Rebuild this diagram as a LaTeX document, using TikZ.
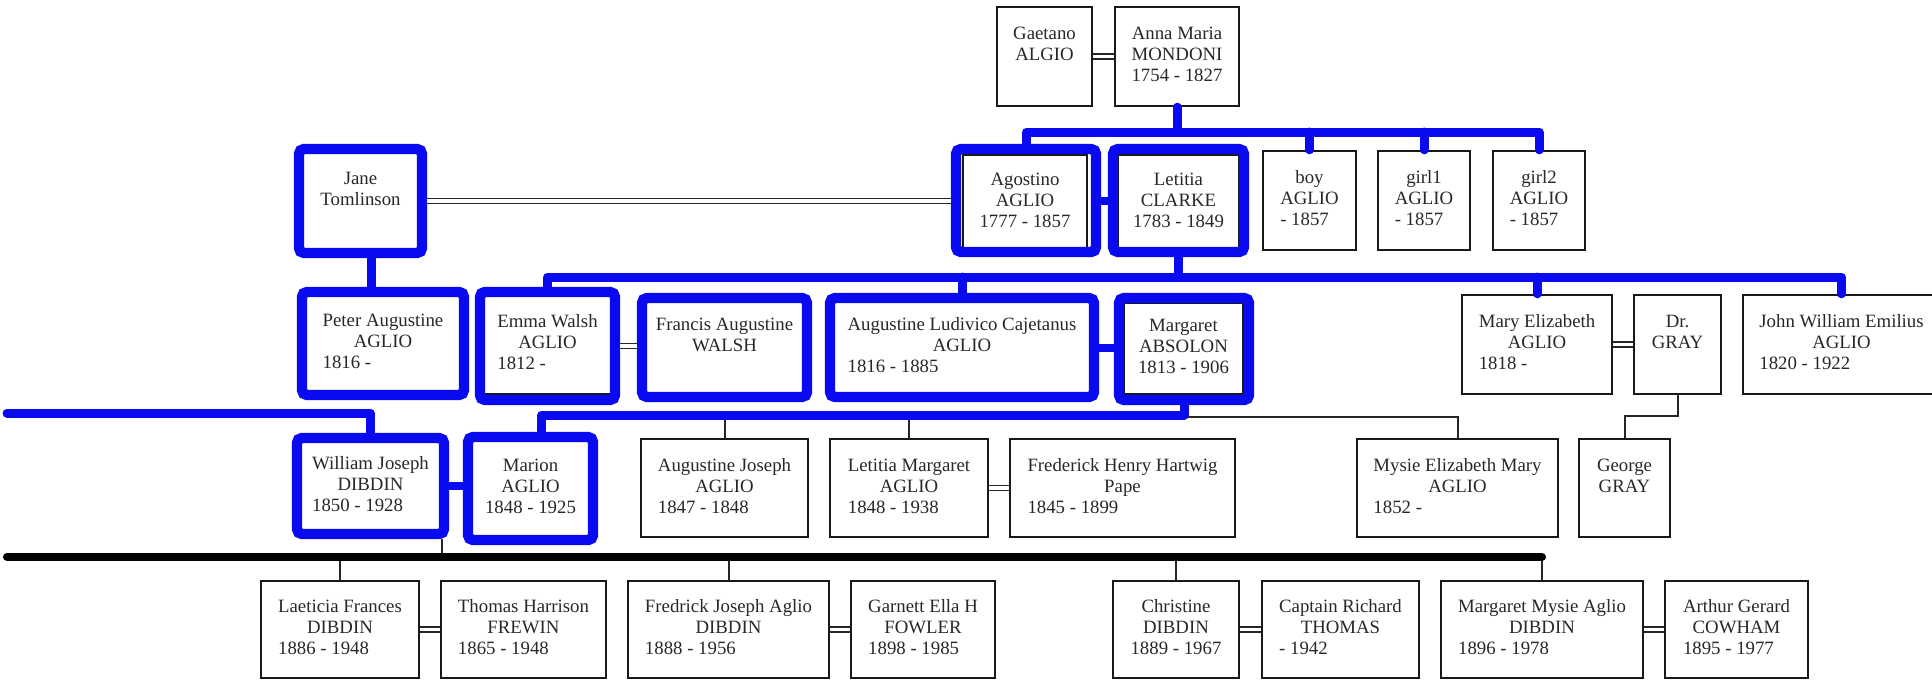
\documentclass[tikz,border=0pt]{standalone}
\usepackage{fontspec}
\setmainfont{Liberation Serif}
\usetikzlibrary{fit,calc}
\definecolor{hblue}{RGB}{10,10,240}
\definecolor{txt}{RGB}{40,40,40}
\newcommand{\ppl}[3]{\begin{tabular}{@{}c@{}}#1\\#2\\\multicolumn{1}{@{}l@{}}{#3}\end{tabular}}
\newcommand{\pnode}[8]{%
  \pgfmathsetmacro\pbcx{(#2+#4)/2}%
  \pgfmathsetmacro\pbcy{(#3+#5)/2}%
  \pgfmathsetmacro\pbw{(#4-#2)*0.5}%
  \pgfmathsetmacro\pbh{(#5-#3)*0.5}%
  \node[pbox, minimum width=\pbw pt, minimum height=\pbh pt] (#1) at (\pbcx,\pbcy) {\ppl{#6}{#7}{#8}};}
\newcommand{\hnode}[5]{\node[hbox, fit={(#2,#3) (#4,#5)}] (#1) {};}
\tikzset{
  pbox/.style={draw=black!90, line width=1.2pt, inner sep=0pt, fill=white, anchor=center,
    font=\fontsize{9.4}{10.5}\selectfont, text=txt},
  hbox/.style={draw=hblue, line width=5.2pt, rounded corners=2.5pt, inner sep=0pt},
  bline/.style={draw=hblue, line width=4.5pt, line cap=round, line join=round},
  blink/.style={draw=hblue, line width=4pt},
  conn/.style={draw=black!85, line width=1pt},
  marry/.style={draw=black!85, double=white, line width=0.7pt, double distance=1.8pt},
  thickbk/.style={draw=black, line width=4pt, line cap=round}
}
\begin{document}
\begin{tikzpicture}[x=0.5pt, y=-0.5pt]
\fill[white] (0,0) rectangle (1932,680);
\useasboundingbox (0,0) rectangle (1932,680);

% ---- row 1
\pnode{gaetano}{997}{7}{1092}{106}{Gaetano}{ALGIO}{}
\pnode{anna}{1115}{7}{1239}{106}{Anna Maria}{MONDONI}{1754 - 1827}
% ---- row 2
\pnode{jane}{299}{149}{422}{253}{Jane}{Tomlinson}{}
\pnode{agostino}{963}{155}{1087}{250}{Agostino}{AGLIO}{1777 - 1857}
\pnode{letitia}{1118}{155}{1239}{250}{Letitia}{CLARKE}{1783 - 1849}
\pnode{boy}{1263}{151}{1356}{250}{boy}{AGLIO}{- 1857}
\pnode{girl1}{1378}{151}{1470}{250}{girl1}{AGLIO}{- 1857}
\pnode{girl2}{1493}{151}{1585}{250}{girl2}{AGLIO}{- 1857}
% ---- row 3
\pnode{peter}{302}{292}{464}{395}{Peter Augustine}{AGLIO}{1816 -}
\pnode{emma}{482}{294}{613}{394}{Emma Walsh}{AGLIO}{1812 -}
\pnode{francis}{642}{298}{807}{397}{Francis Augustine}{WALSH}{}
\pnode{augl}{830}{298}{1094}{397}{Augustine Ludivico Cajetanus}{AGLIO}{1816 - 1885}
\pnode{margaret}{1124}{303}{1243}{394}{Margaret}{ABSOLON}{1813 - 1906}
\pnode{mary}{1462}{295}{1612}{394}{Mary Elizabeth}{AGLIO}{1818 -}
\pnode{drgray}{1634}{295}{1721}{394}{Dr.}{GRAY}{}
\pnode{john}{1743}{295}{1940}{394}{John William Emilius}{AGLIO}{1820 - 1922}
% ---- row 4
\pnode{william}{297}{438}{444}{534}{William Joseph}{DIBDIN}{1850 - 1928}
\pnode{marion}{468}{437}{593}{540}{Marion}{AGLIO}{1848 - 1925}
\pnode{augj}{641}{439}{808}{537}{Augustine Joseph}{AGLIO}{1847 - 1848}
\pnode{letm}{830}{439}{988}{537}{Letitia Margaret}{AGLIO}{1848 - 1938}
\pnode{fred}{1010}{439}{1235}{537}{Frederick Henry Hartwig}{Pape}{1845 - 1899}
\pnode{mysie}{1357}{439}{1558}{537}{Mysie Elizabeth Mary}{AGLIO}{1852 -}
\pnode{george}{1579}{439}{1670}{537}{George}{GRAY}{}
% ---- row 5
\pnode{laeticia}{261}{581}{419}{678}{Laeticia Frances}{DIBDIN}{1886 - 1948}
\pnode{thomas}{441}{581}{606}{678}{Thomas Harrison}{FREWIN}{1865 - 1948}
\pnode{fredrick}{628}{581}{829}{678}{Fredrick Joseph Aglio}{DIBDIN}{1888 - 1956}
\pnode{garnett}{851}{581}{995}{678}{Garnett Ella H}{FOWLER}{1898 - 1985}
\pnode{christine}{1113}{581}{1239}{678}{Christine}{DIBDIN}{1889 - 1967}
\pnode{captain}{1262}{581}{1419}{678}{Captain Richard}{THOMAS}{- 1942}
\pnode{margm}{1441}{581}{1643}{678}{Margaret Mysie Aglio}{DIBDIN}{1896 - 1978}
\pnode{arthur}{1665}{581}{1808}{678}{Arthur Gerard}{COWHAM}{1895 - 1977}

% ---- highlight boxes
\hnode{hjane}{299}{149}{422}{253}
\hnode{hago}{956}{149}{1096}{252}
\hnode{hlet}{1113}{149}{1244}{252}
\hnode{hpeter}{302}{292}{464}{395}
\hnode{hemma}{480}{292}{615}{400}
\hnode{hfran}{642}{298}{807}{397}
\hnode{haugl}{830}{298}{1094}{397}
\hnode{hmarg}{1119}{298}{1249}{400}
\hnode{hwill}{297}{438}{444}{534}
\hnode{hmarion}{468}{437}{593}{540}

% ---- bus coordinates
\coordinate (bus1) at (0,132);
\coordinate (bus2) at (0,277);
\coordinate (bus3) at (0,415);
\coordinate (bus3b) at (0,417);
\coordinate (gbus) at (0,416);
\coordinate (ledge) at (7,413);
\coordinate (bk) at (7,557);
\coordinate (jp) at ($(hjane.south)!0.5!(hpeter.north)$);
\coordinate (mdrop) at ($(hmarion.north)+(11,0)$);
\coordinate (wtick) at ($(hwill.south east)+(-7,0)$);

% ---- marriage double lines
\draw[marry] (gaetano) -- (anna);
\draw[marry] (hjane.east) -- (hago.west |- hjane.east);
\draw[marry] (hemma.east) -- (hfran.west |- hemma.east);
\draw[marry] (mary) -- (drgray);
\draw[marry] (letm) -- (fred);
\draw[marry] (laeticia) -- (thomas);
\draw[marry] (fredrick) -- (garnett);
\draw[marry] (christine) -- (captain);
\draw[marry] (margm) -- (arthur);

% ---- thin black connectors
\draw[conn] (hmarg.south |- bus3b) -- (mysie.north |- bus3b) -- (mysie.north);
\draw[conn] (augj.north |- bus3) -- (augj.north);
\draw[conn] (letm.north |- bus3) -- (letm.north);
\draw[conn] (drgray.south) -- (drgray.south |- gbus) -- (george.north |- gbus) -- (george.north);
\draw[conn] (wtick) -- (wtick |- bk);
\foreach \n in {laeticia,fredrick,christine,margm}
  \draw[conn] (\n.north |- bk) -- (\n.north);
\draw[thickbk] (bk) -- (margm.north |- bk);

% ---- blue highlight connectors
\draw[bline] (anna.south) -- (anna.south |- bus1);
\draw[bline] (hago.north) -- (hago.north |- bus1) -- (girl2.north |- bus1) -- (girl2.north);
\draw[bline] (boy.north |- bus1) -- (boy.north);
\draw[bline] (girl1.north |- bus1) -- (girl1.north);
\draw[blink] (hago.east) -- (hlet.west);
\draw[bline] (hjane.south -| jp) -- (hpeter.north -| jp);
\draw[bline] (hlet.south) -- (hlet.south |- bus2);
\draw[bline] (hemma.north) -- (hemma.north |- bus2) -- (john.north |- bus2) -- (john.north);
\draw[bline] (haugl.north |- bus2) -- (haugl.north);
\draw[bline] (mary.north |- bus2) -- (mary.north);
\draw[blink] (haugl.east) -- (hmarg.west |- haugl.east);
\draw[bline] (ledge) -- (hwill.north |- ledge) -- (hwill.north);
\draw[bline] (mdrop) -- (mdrop |- bus3) -- (hmarg.south |- bus3) -- (hmarg.south);
\draw[blink] (hwill.east) -- (hmarion.west |- hwill.east);
\end{tikzpicture}
\end{document}
